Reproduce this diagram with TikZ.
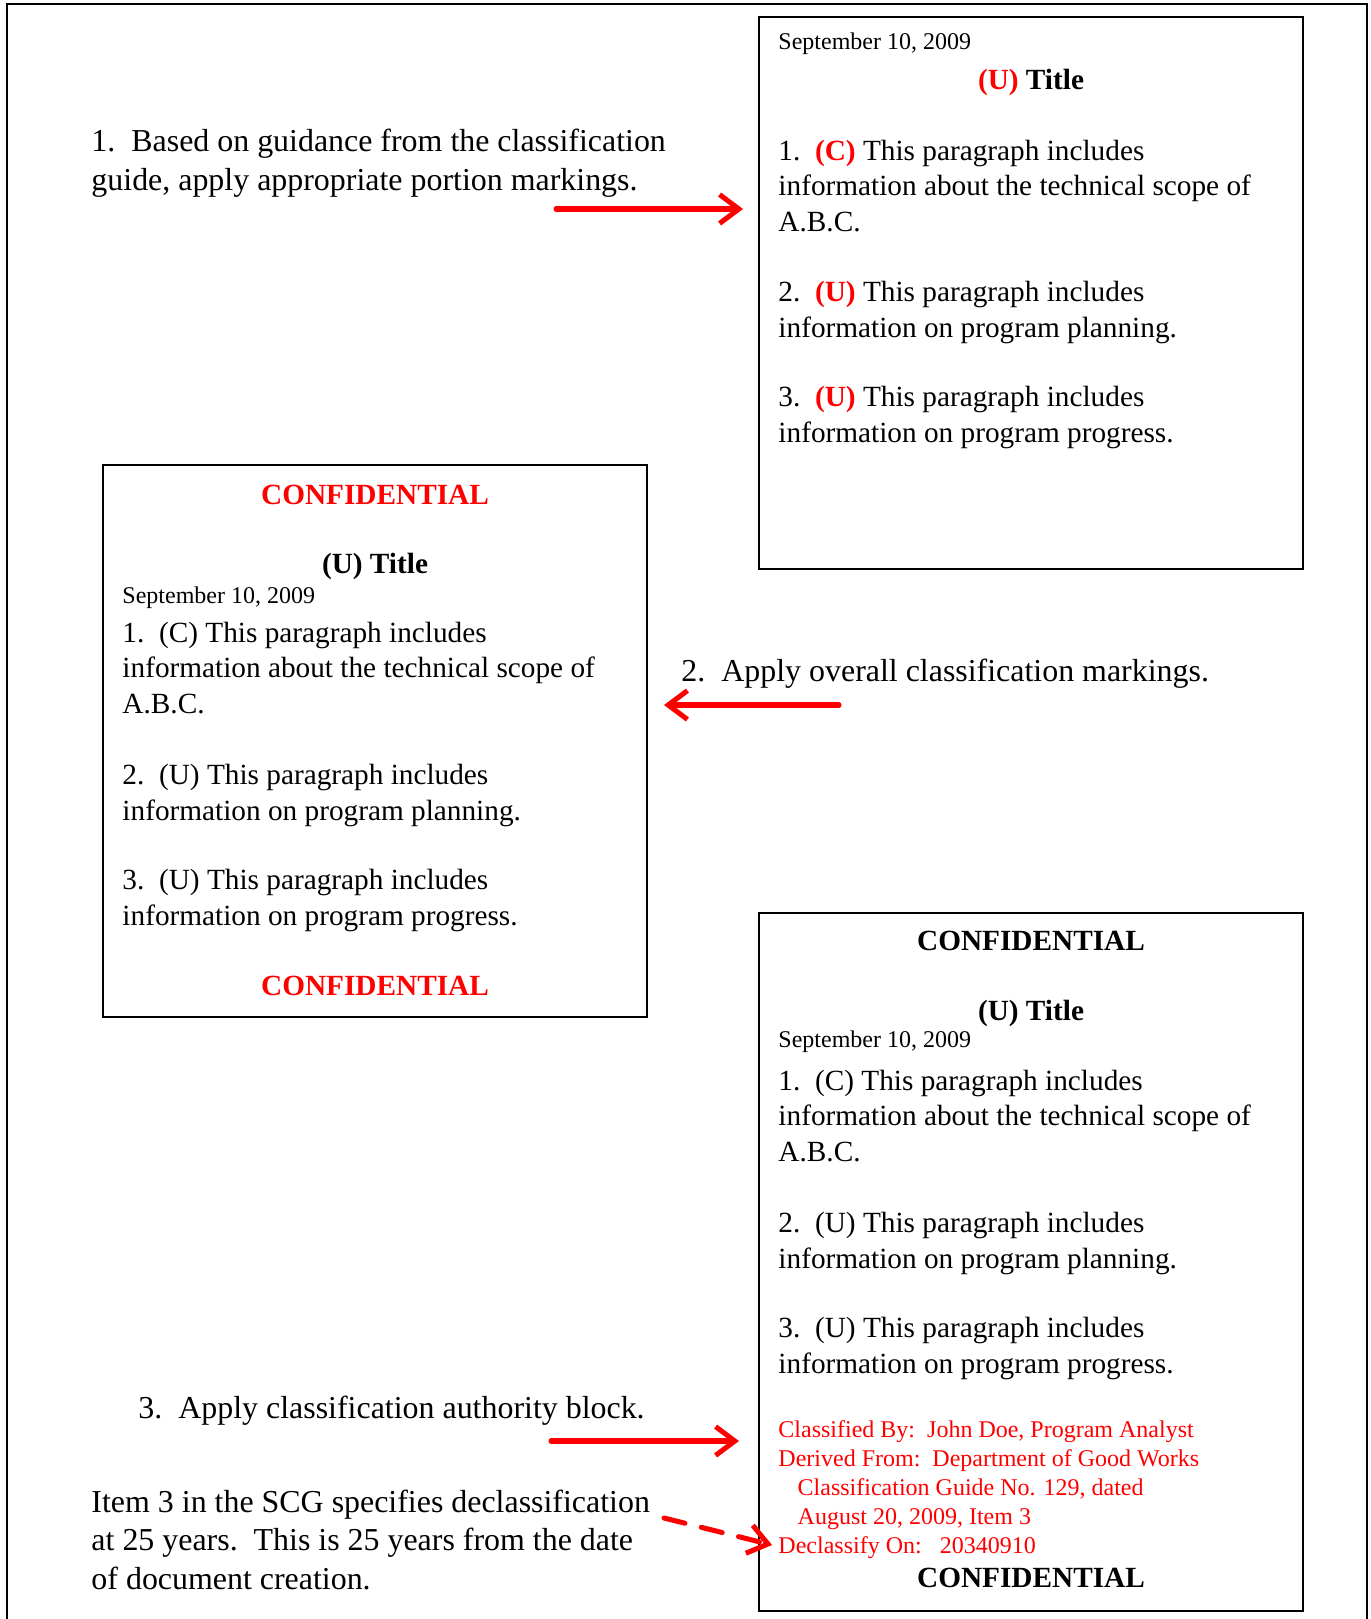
\documentclass[tikz,border=0pt]{standalone}
\usepackage{fontspec}
\setmainfont{Liberation Serif}
\usetikzlibrary{arrows.meta,positioning}

\begin{document}
\begin{tikzpicture}[
    x=0.41667pt, y=-0.41667pt,
    box/.style={draw, line width=0.8pt},
    para/.style={anchor=base west, align=left, inner sep=0pt, font=\fontsize{12.2}{14.6}\selectfont},
    datel/.style={anchor=base west, inner sep=0pt, font=\fontsize{10}{12}\selectfont},
    hdr/.style={anchor=base, inner sep=0pt, font=\fontsize{12.2}{14}\selectfont\bfseries},
    note/.style={anchor=base west, align=left, inner sep=0pt, font=\fontsize{13.3}{16}\selectfont},
    authblk/.style={anchor=base west, align=left, inner sep=0pt, text=red, font=\fontsize{10}{12}\selectfont},
    arr/.style={-{Straight Barb[length=8pt, width=12pt]}, line width=2.1pt, red, line cap=round, line join=round}
]
\useasboundingbox (0,0) rectangle (1371,1619);
\draw[line width=1pt] (7,1640) |- (1367,4) -- (1367,1640);

\draw[box] (759,17) rectangle (1303,569);
\node[datel] (date1) at (778,50) {September 10, 2009};
\node[hdr] (title1) at (1031,90) {\textcolor{red}{(U)} Title};
\node[para] (par11) at (778,231) {1.\ \ \textcolor{red}{\textbf{(C)}} This paragraph includes\\information about the technical scope of\\A.B.C.};
\node[para] (par12) at (778,337) {2.\ \ \textcolor{red}{\textbf{(U)}} This paragraph includes\\information on program planning.};
\node[para] (par13) at (778,442) {3.\ \ \textcolor{red}{\textbf{(U)}} This paragraph includes\\information on program progress.};

\draw[box] (103,465) rectangle (647,1017);
\node[hdr, text=red] (conf2a) at (375,504) {CONFIDENTIAL};
\node[hdr] (title2) at (375,573) {(U) Title};
\node[datel] (date2) at (122,603) {September 10, 2009};
\node[para] (par21) at (122,713) {1.\ \ (C) This paragraph includes\\information about the technical scope of\\A.B.C.};
\node[para] (par22) at (122,820) {2.\ \ (U) This paragraph includes\\information on program planning.};
\node[para] (par23) at (122,925) {3.\ \ (U) This paragraph includes\\information on program progress.};
\node[hdr, text=red] (conf2b) at (375,995) {CONFIDENTIAL};

\draw[box] (759,913) rectangle (1303,1611);
\node[hdr] (conf3a) at (1031,950) {CONFIDENTIAL};
\node[hdr] (title3) at (1031,1020) {(U) Title};
\node[datel] (date3) at (778,1047) {September 10, 2009};
\node[para] (par31) at (778,1161) {1.\ \ (C) This paragraph includes\\information about the technical scope of\\A.B.C.};
\node[para] (par32) at (778,1268) {2.\ \ (U) This paragraph includes\\information on program planning.};
\node[para] (par33) at (778,1373) {3.\ \ (U) This paragraph includes\\information on program progress.};
\node[authblk] (auth3) at (778,1553) {Classified By:\ \ John Doe, Program Analyst\\Derived From:\ \ Department of Good Works\\\hspace*{8pt}Classification Guide No. 129, dated\\\hspace*{8pt}August 20, 2009, Item 3\\Declassify On:\ \ \ 20340910};
\node[hdr] (conf3b) at (1031,1587) {CONFIDENTIAL};

\node[note] (step1) at (91,190) {1.\ \ Based on guidance from the classification\\guide, apply appropriate portion markings.};
\node[note] (step2) at (681,681) {2.\ \ Apply overall classification markings.};
\node[note] (step3) at (138,1418) {3.\ \ Apply classification authority block.};
\node[note] (scg) at (91,1589) {Item 3 in the SCG specifies declassification\\at 25 years.\ \ This is 25 years from the date\\of document creation.};

\coordinate (a1s) at (556,209);
\coordinate (a1e) at (743,209);
\coordinate (a2s) at (839,705);
\coordinate (a2e) at (664,705);
\coordinate (a3s) at (551,1441);
\coordinate (a3e) at (739,1441);
\coordinate (a4s) at (664,1518);
\coordinate (a4e) at (772,1545);

\draw[arr] (a1s) -- (a1e);
\draw[arr] (a2s) -- (a2e);
\draw[arr] (a3s) -- (a3e);
\draw[arr, dash pattern=on 9pt off 7pt] (a4s) -- (a4e);
\end{tikzpicture}
\end{document}
